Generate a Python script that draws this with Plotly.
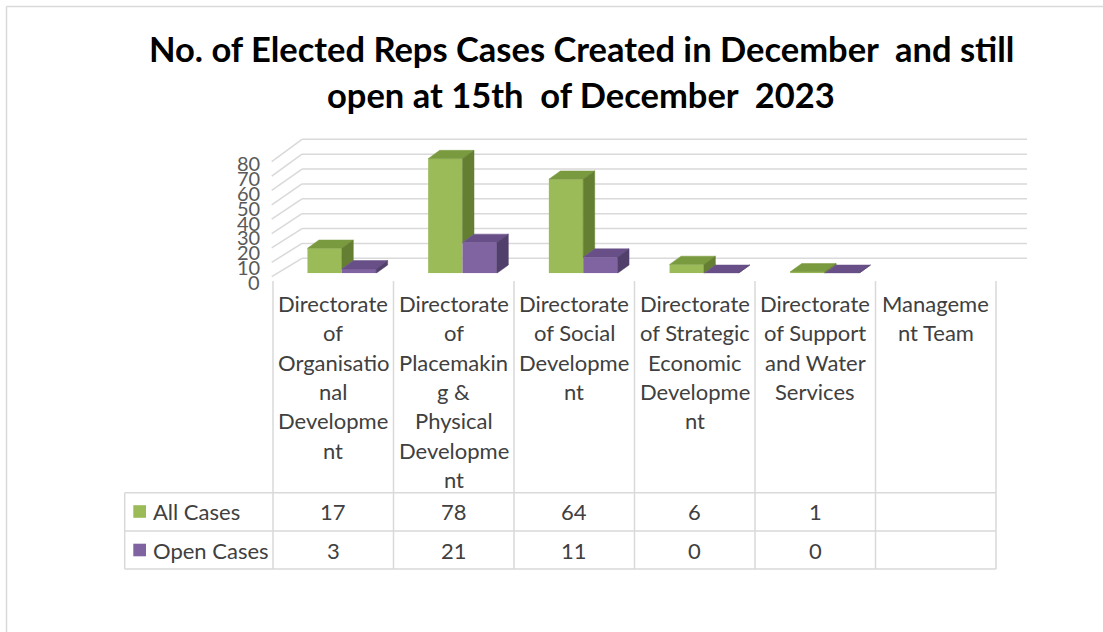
import plotly.graph_objects as go

# ---------------- data ----------------
categories = [
    "Directorate of Organisational Development",
    "Directorate of Placemaking & Physical Development",
    "Directorate of Social Development",
    "Directorate of Strategic Economic Development",
    "Directorate of Support and Water Services",
    "Management Team",
]
tick_labels = [
    ["Directorate", "of", "Organisatio", "nal", "Developme", "nt"],
    ["Directorate", "of", "Placemakin", "g &", "Physical", "Developme", "nt"],
    ["Directorate", "of Social", "Developme", "nt"],
    ["Directorate", "of Strategic", "Economic", "Developme", "nt"],
    ["Directorate", "of Support", "and Water", "Services"],
    ["Manageme", "nt Team"],
]
series_names = ["All Cases", "Open Cases"]
all_cases = [17, 78, 64, 6, 1, None]
open_cases = [3, 21, 11, 0, 0, None]
y_ticks = [0, 10, 20, 30, 40, 50, 60, 70, 80]
title_lines = ["No. of Elected Reps Cases Created in December\u00a0 and still",
               "open at 15th\u00a0 of December\u00a0 2023"]

# ---------------- styling / geometry ----------------
W, H = 1103, 632
FONT = "Lato"
GREEN = "#9BBB59"; GREEN_TOP = "#7A9A3F"; GREEN_SIDE = "#647F31"
PURPLE = "#8064A2"; PURPLE_TOP = "#684F87"; PURPLE_SIDE = "#51406B"
GRID = "#D9D9D9"
TXT = "#404040"; AX_TXT = "#595959"
TSIZE = 22


def px(x):
    return x / W


def py(y):
    return 1 - y / H


X_START, X_STEP = 281.45, 120.7          # plot x-domain pixels
Y_ZERO, Y_SCALE, Y_MAX = 273.3, 1.47, 100  # front-plane pixel scale
BARGAP = 0.431
BW = (1 - BARGAP) / 2
DX = 11.5 / X_STEP
DY = 8.3 / Y_SCALE

idx = list(range(len(categories)))
fig = go.Figure()

colors = [(GREEN, GREEN_TOP, GREEN_SIDE), (PURPLE, PURPLE_TOP, PURPLE_SIDE)]
for name, vals, (cf, _, _) in zip(series_names, [all_cases, open_cases], colors):
    fig.add_trace(go.Bar(x=idx, y=vals, name=name, marker=dict(color=cf, line=dict(width=0)),
                         hoverinfo="skip", showlegend=False))


def poly(xs, ys, color):
    fig.add_trace(go.Scatter(x=xs + [xs[0]], y=ys + [ys[0]], mode="lines", fill="toself",
                             fillcolor=color, line=dict(color=color, width=0.5),
                             hoverinfo="skip", showlegend=False))


for i in idx:
    g, p = all_cases[i], open_cases[i]
    if g is None:
        continue
    x0, x1 = i - BW, i
    poly([x0, x1, x1 + DX, x0 + DX], [g, g, g + DY, g + DY], GREEN_TOP)
    lo = p if (p is not None and p < g) else 0
    poly([x1, x1, x1 + DX, x1 + DX], [lo, g, g + DY, lo + DY], GREEN_SIDE)
    if p is None:
        continue
    x2 = i + BW
    poly([x1, x2, x2 + DX, x1 + DX], [p, p, p + DY, p + DY], PURPLE_TOP)
    poly([x2, x2, x2 + DX, x2 + DX], [0, p, p + DY, DY], PURPLE_SIDE)

shapes = []
ann = []

# walls: back wall gridlines + side wall diagonals
for v in y_ticks:
    yb = 258.3 - 1.4875 * v
    yf = 276.7 - 1.4375 * v
    shapes.append(dict(type="line", xref="paper", yref="paper", x0=px(302), x1=px(1027),
                       y0=py(yb), y1=py(yb), line=dict(color=GRID, width=1.5), layer="below"))
    shapes.append(dict(type="line", xref="paper", yref="paper", x0=px(271.7), x1=px(302),
                       y0=py(yf), y1=py(yb), line=dict(color=GRID, width=1.5), layer="below"))
    ann.append(dict(text=str(v), x=px(262), y=py(281.7 - 1.48 * v), xref="paper", yref="paper",
                    xanchor="right", yanchor="middle", showarrow=False,
                    font=dict(family=FONT, size=20, color=AX_TXT)))

# data table
COL0, COLW = 273, 120.5
ROW_Y = [492.7, 531, 569]
LEFT = 124.7
for yy in ROW_Y:
    shapes.append(dict(type="line", xref="paper", yref="paper", x0=px(LEFT), x1=px(COL0 + 6 * COLW),
                       y0=py(yy), y1=py(yy), line=dict(color=GRID, width=1.5)))
shapes.append(dict(type="line", xref="paper", yref="paper", x0=px(LEFT), x1=px(LEFT),
                   y0=py(ROW_Y[0]), y1=py(ROW_Y[-1]), line=dict(color=GRID, width=1.5)))
for k in range(len(categories) + 1):
    xx = COL0 + k * COLW
    shapes.append(dict(type="line", xref="paper", yref="paper", x0=px(xx), x1=px(xx),
                       y0=py(281), y1=py(ROW_Y[-1]), line=dict(color=GRID, width=1.5)))

for k, lines in enumerate(tick_labels):
    cx = COL0 + (k + 0.5) * COLW
    for j, t in enumerate(lines):
        ann.append(dict(text=t, x=px(cx), y=py(303.3 + 29.4 * j), xref="paper", yref="paper",
                        xanchor="center", yanchor="middle", showarrow=False,
                        font=dict(family=FONT, size=TSIZE, color=TXT)))

row_centers = [511.5, 550]
for r, (name, vals, (cf, _, _)) in enumerate(zip(series_names, [all_cases, open_cases], colors)):
    yc = row_centers[r]
    shapes.append(dict(type="rect", xref="paper", yref="paper", x0=px(133.3), x1=px(146),
                       y0=py(yc - 6.3), y1=py(yc + 6.3), fillcolor=cf, line=dict(width=0)))
    ann.append(dict(text=name, x=px(151), y=py(yc), xref="paper", yref="paper",
                    xanchor="left", yanchor="middle", showarrow=False,
                    font=dict(family=FONT, size=TSIZE, color=TXT)))
    for k, v in enumerate(vals):
        if v is None:
            continue
        ann.append(dict(text=str(v), x=px(COL0 + (k + 0.5) * COLW), y=py(yc), xref="paper",
                        yref="paper", xanchor="center", yanchor="middle", showarrow=False,
                        font=dict(family=FONT, size=TSIZE, color=TXT)))

# outer frame
shapes.append(dict(type="line", xref="paper", yref="paper", x0=px(6.5), x1=1,
                   y0=py(6.5), y1=py(6.5), line=dict(color=GRID, width=1.5)))
shapes.append(dict(type="line", xref="paper", yref="paper", x0=px(6.5), x1=px(6.5),
                   y0=py(6.5), y1=0, line=dict(color=GRID, width=1.5)))

# title
for j, t in enumerate(title_lines):
    ann.append(dict(text="<b>" + t + "</b>", x=px(581), y=py(49 + 45 * j), xref="paper", yref="paper",
                    xanchor="center", yanchor="middle", showarrow=False,
                    font=dict(family=FONT, size=34.5, color="#000000")))

fig.update_layout(
    width=W, height=H, margin=dict(l=0, r=0, t=0, b=0),
    paper_bgcolor="white", plot_bgcolor="rgba(0,0,0,0)",
    barmode="group", bargap=BARGAP, bargroupgap=0,
    xaxis=dict(domain=[px(X_START), px(X_START + 6 * X_STEP)], range=[-0.5, 5.5],
               visible=False, fixedrange=True),
    yaxis=dict(domain=[py(Y_ZERO), py(Y_ZERO - Y_MAX * Y_SCALE)], range=[0, Y_MAX],
               visible=False, fixedrange=True),
    shapes=shapes, annotations=ann, showlegend=False,
)

fig.write_html("out.html", config={"displayModeBar": False},
               post_script="document.body.style.margin='0';document.body.style.overflow='hidden';")
